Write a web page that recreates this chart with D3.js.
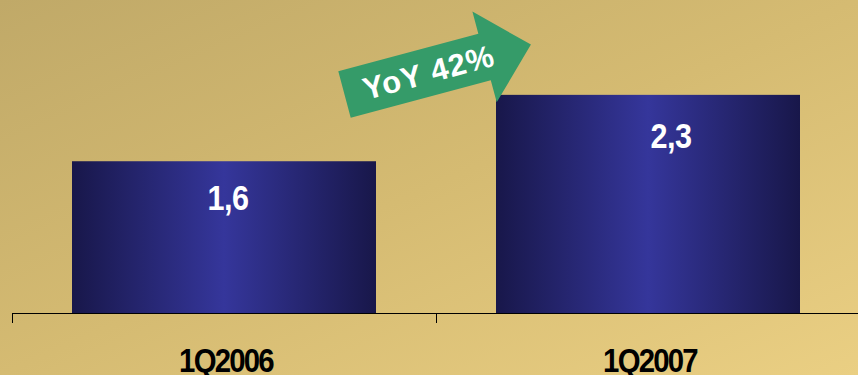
<!DOCTYPE html>
<html>
<head>
<meta charset="utf-8">
<script src="https://cdn.jsdelivr.net/npm/d3@7"></script>
<style>
  html, body { margin: 0; padding: 0; background: #d4bb72; }
  svg { display: block; }
</style>
</head>
<body>
<svg id="chart" width="858" height="375"></svg>
<script>
// Quarterly figures
const categories = ["1Q2006", "1Q2007"];
const values = [1.6, 2.3];
const valueLabels = ["1,6", "2,3"];
const growthLabel = "YoY 42%";

// small per-label nudges (dx, dy) for the value captions
const labelNudge = [[4, 49], [23, 53]];

const W = 858, H = 375;
const baseY = 313;

const svg = d3.select("#chart");
const defs = svg.append("defs");

// gold backdrop
const bg = defs.append("linearGradient").attr("id", "bg")
  .attr("x1", "0%").attr("y1", "0%").attr("x2", "100%").attr("y2", "100%");
bg.append("stop").attr("offset", "0%").attr("stop-color", "#c0a968");
bg.append("stop").attr("offset", "50%").attr("stop-color", "#d5bb72");
bg.append("stop").attr("offset", "100%").attr("stop-color", "#eacf83");

// navy bar shading, bright in the middle
const barGrad = defs.append("linearGradient").attr("id", "barGrad")
  .attr("x1", "0%").attr("y1", "0%").attr("x2", "100%").attr("y2", "0%");
barGrad.append("stop").attr("offset", "0%").attr("stop-color", "#18174a");
barGrad.append("stop").attr("offset", "50%").attr("stop-color", "#35369b");
barGrad.append("stop").attr("offset", "100%").attr("stop-color", "#18174a");

svg.append("rect").attr("width", W).attr("height", H).attr("fill", "url(#bg)");

// scales
const pInner = 120 / 424;
const x = d3.scaleBand()
  .domain(categories)
  .range([12, 860])
  .paddingInner(pInner)
  .paddingOuter(pInner / 2);

const y = d3.scaleLinear().domain([0, 3.3]).range([baseY, 0]);

// bars
svg.append("g").selectAll("rect")
  .data(values)
  .join("rect")
  .attr("x", (d, i) => x(categories[i]))
  .attr("y", d => y(d))
  .attr("width", x.bandwidth())
  .attr("height", d => y(0) - y(d))
  .attr("fill", "url(#barGrad)");

// axis: baseline plus ticks at band boundaries
const axis = svg.append("g");
axis.append("line")
  .attr("x1", x.range()[0]).attr("x2", W)
  .attr("y1", y(0) + 0.5).attr("y2", y(0) + 0.5)
  .attr("stroke", "#000").attr("stroke-width", 1.2);
const boundaries = categories.map(c => x(c) - x.step() * pInner / 2);
axis.selectAll("line.tick")
  .data(boundaries)
  .join("line")
  .attr("class", "tick")
  .attr("x1", d => Math.round(d) + 0.5).attr("x2", d => Math.round(d) + 0.5)
  .attr("y1", y(0)).attr("y2", y(0) + 10)
  .attr("stroke", "#000").attr("stroke-width", 1);

// category labels
svg.append("g").selectAll("text")
  .data(categories)
  .join("text")
  .attr("transform", d => `translate(${x(d) + x.bandwidth() / 2 + 2},371.5) scale(0.89,1)`)
  .attr("text-anchor", "middle")
  .attr("font-family", "Liberation Sans, Arial, sans-serif")
  .attr("font-weight", "bold")
  .attr("font-size", 33)
  .attr("letter-spacing", -2)
  .attr("fill", "#000")
  .text(d => d);

// value labels inside the bars
svg.append("g").selectAll("text")
  .data(values)
  .join("text")
  .attr("transform", (d, i) =>
    `translate(${x(categories[i]) + x.bandwidth() / 2 + labelNudge[i][0]},${y(d) + labelNudge[i][1]}) scale(0.85,1)`)
  .attr("text-anchor", "middle")
  .attr("font-family", "Liberation Sans, Arial, sans-serif")
  .attr("font-weight", "bold")
  .attr("font-size", 36)
  .attr("letter-spacing", -0.5)
  .attr("fill", "#fff")
  .text((d, i) => valueLabels[i]);

// growth arrow, tilted upward between the bars
const arrow = svg.append("g")
  .attr("transform", "translate(344.5,94.5) rotate(-15)");
const shaftHalf = 24, headStart = 145, headHalf = 47, tip = 193;
arrow.append("path")
  .attr("d", d3.line()([
    [0, -shaftHalf], [headStart, -shaftHalf], [headStart, -headHalf],
    [tip, 0], [headStart, headHalf], [headStart, shaftHalf], [0, shaftHalf]
  ]) + "Z")
  .attr("fill", "#359b69");
arrow.append("text")
  .attr("x", 87).attr("y", 11)
  .attr("text-anchor", "middle")
  .attr("font-family", "Liberation Sans, Arial, sans-serif")
  .attr("font-weight", "bold")
  .attr("font-size", 31)
  .attr("letter-spacing", 1)
  .attr("fill", "#fff")
  .text(growthLabel);
</script>
</body>
</html>
